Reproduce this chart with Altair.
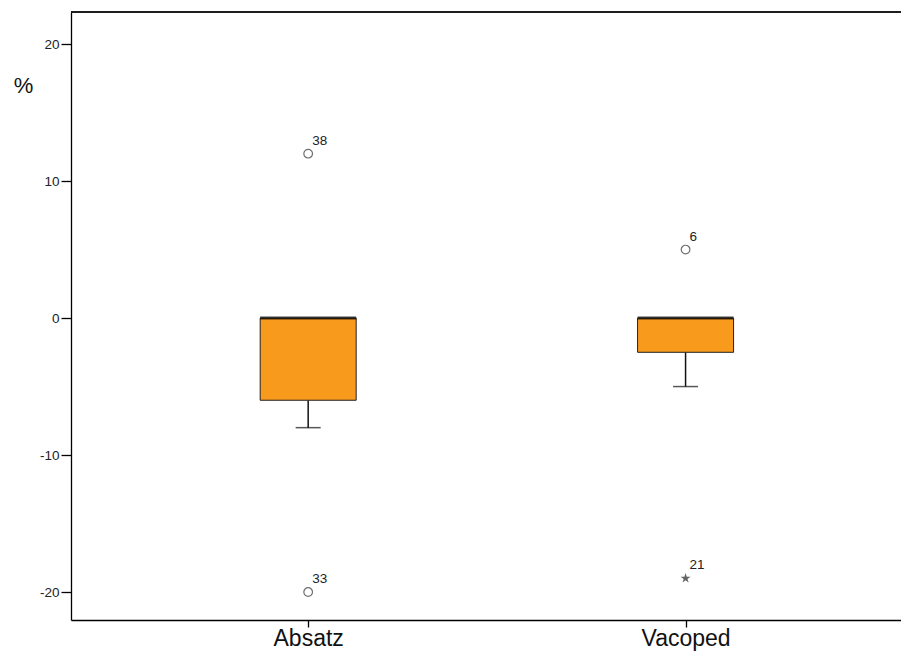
import altair as alt
import pandas as pd

categories = ["Absatz", "Vacoped"]
positions = [1, 2]
q1 = [-6, -2.5]
median = [0, 0]
q3 = [0, 0]
whisker_low = [-8, -5]

out_pos = [1, 1, 2, 2]
out_val = [12, -20, 5, -19]
out_lab = ["38", "33", "6", "21"]
out_kind = ["circle", "circle", "circle", "star"]

box = pd.DataFrame({"pos": positions, "cat": categories, "q1": q1, "med": median, "q3": q3, "wl": whisker_low})
outl = pd.DataFrame({"pos": out_pos, "val": out_val, "lab": out_lab, "kind": out_kind})

FONT = "Liberation Sans"
W, H = 830, 608
xs = alt.Scale(domain=[0.3848, 2.5576], nice=False, zero=False)
ys = alt.Scale(domain=[-22.04, 22.34], nice=False, zero=False)

xax = alt.Axis(title=None, values=positions,
               labelExpr="datum.value == 1 ? 'Absatz' : 'Vacoped'",
               labelFontSize=23, labelFont=FONT, labelColor="#111", tickSize=7,
               labelPadding=0, labelBaseline="top", domainColor="#000", tickColor="#000",
               domainWidth=1.3, tickWidth=1.3,
               labelAngle=0, grid=False, labelFlush=False, labelOverlap=False)
yax = alt.Axis(title="%", titleAngle=0, titleX=-48, titleY=73, titleAlign="center",
               titleBaseline="middle", titleFontSize=22, titleFont=FONT, titleFontWeight="normal",
               titleColor="#111", values=[-20, -10, 0, 10, 20], labelExpr="datum.value + ''",
               labelFontSize=13.5, labelFont=FONT, domainWidth=1.3, tickWidth=1.3,
               labelColor="#222", tickSize=10, labelPadding=2, domainColor="#000",
               tickColor="#000", grid=False)

base = alt.Chart(box)

whisk = base.mark_rule(color="#111", strokeWidth=1.5).encode(
    x=alt.X("pos:Q", scale=xs, axis=xax), y=alt.Y("q1:Q", scale=ys, axis=yax), y2="wl:Q")
caps = base.mark_tick(size=25, thickness=1.5, color="#111", orient="horizontal").encode(
    x=alt.X("pos:Q", scale=xs), y=alt.Y("wl:Q", scale=ys))
bars = base.mark_bar(size=96, color="#F89A1C", stroke="#222", strokeWidth=1).encode(
    x=alt.X("pos:Q", scale=xs), y=alt.Y("q1:Q", scale=ys), y2="q3:Q")
meds = base.mark_tick(size=96, thickness=3, color="#000", orient="horizontal").encode(
    x=alt.X("pos:Q", scale=xs), y=alt.Y("med:Q", scale=ys))

STAR = "M0,-1L0.2245,-0.309L0.951,-0.309L0.363,0.118L0.588,0.809L0,0.382L-0.588,0.809L-0.363,0.118L-0.951,-0.309L-0.2245,-0.309Z"
circ = alt.Chart(outl).transform_filter("datum.kind == 'circle'").mark_point(
    shape="circle", filled=False, size=75, color="#333", strokeWidth=1.2).encode(
    x=alt.X("pos:Q", scale=xs), y=alt.Y("val:Q", scale=ys))
star = alt.Chart(outl).transform_filter("datum.kind == 'star'").mark_point(
    shape=STAR, filled=True, size=110, color="#222").encode(
    x=alt.X("pos:Q", scale=xs), y=alt.Y("val:Q", scale=ys))
labs = alt.Chart(outl).mark_text(align="left", baseline="bottom", dx=4, dy=-6,
                                 fontSize=13.5, font=FONT, color="#222").encode(
    x=alt.X("pos:Q", scale=xs), y=alt.Y("val:Q", scale=ys), text="lab:N")

top = alt.Chart(box).mark_rule(color="#111", strokeWidth=1.5).encode(
    x=alt.value(0), x2=alt.value(W), y=alt.value(0))

chart = alt.layer(whisk, caps, bars, meds, circ, star, labs, top).properties(
    width=W, height=H,
    autosize=alt.AutoSizeParams(type="none"),
    padding={"left": 63, "top": 4, "right": 0, "bottom": 33},
).configure_view(stroke=None).configure(background="white")

chart.save("out.html", embed_options={"renderer": "svg", "actions": False})
